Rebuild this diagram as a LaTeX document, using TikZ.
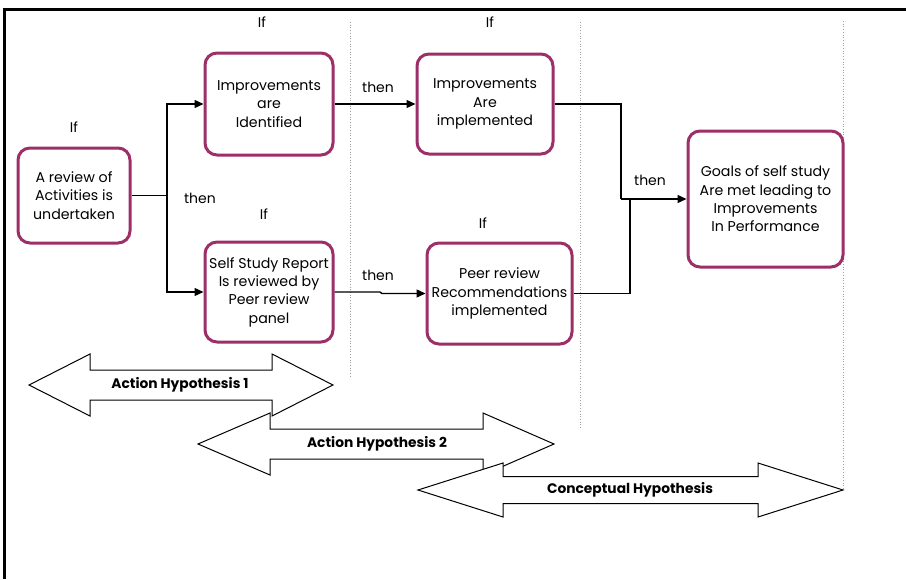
\documentclass[tikz,border=0pt]{standalone}
\usepackage{fontspec}
\setmainfont{Poppins}
\usetikzlibrary{arrows.meta}
\definecolor{plum}{RGB}{156,46,104}
\begin{document}
\begin{tikzpicture}[x=1pt,y=-1pt,
 box/.style={draw=plum, line width=3pt, rounded corners=12pt, align=center, inner sep=0pt, font=\fontsize{14.2}{18.3}\selectfont},
 lbl/.style={font=\fontsize{14}{16}\selectfont, inner sep=0pt},
 conn/.style={line width=1.4pt},
 arr/.style={conn, -{Triangle[length=9pt,width=8pt]}},
 guide/.style={black!38, dotted, line width=0.7pt},
 harrow/.style={draw=black, fill=white, line width=1pt, line join=miter},
 hlbl/.style={font=\bfseries\fontsize{13.8}{15}\selectfont, inner sep=0pt}]
\useasboundingbox (0,0) rectangle (906,579);
\fill[white] (0,0) rectangle (906,579);
% frame
\draw[line width=3pt, line join=miter] (4,579) -- (4,9) -- (906,9);
% guides
\draw[guide] (350,22) -- (350,378);
\draw[guide] (580,22) -- (580,428);
\draw[guide] (843,21) -- (843,490);
% boxes
\node[box, minimum width=112pt, minimum height=95pt] (A) at (74,195.5) {A review of\\Activities is\\undertaken};
\node[box, minimum width=128pt, minimum height=102pt] (B) at (269,104) {Improvements\\are\\Identified};
\node[box, minimum width=128pt, minimum height=100pt] (C) at (269,292) {Self Study Report\\Is reviewed by\\Peer review\\panel};
\node[box, minimum width=136pt, minimum height=100pt] (D) at (485,104) {Improvements\\Are\\implemented};
\node[box, minimum width=145pt, minimum height=101pt] (E) at (499.5,293.5) {Peer review\\Recommendations\\implemented};
\node[box, minimum width=155pt, minimum height=136pt] (F) at (765.5,199) {Goals of self study\\Are met leading to\\Improvements\\In Performance};
% labels
\node[lbl] (ifA) at (74,127) {If};
\node[lbl] (ifB) at (262,22) {If};
\node[lbl] (ifC) at (264,214) {If};
\node[lbl] (ifD) at (490,22) {If};
\node[lbl] (ifE) at (483,223) {If};
\node[lbl] (thA) at (200,198) {then};
\node[lbl] (thB) at (378,87) {then};
\node[lbl] (thC) at (378,275) {then};
\node[lbl] (thF) at (650,180) {then};
% connectors
\coordinate (sp) at (167,195.5);
\draw[conn] (A.east) -- (sp);
\draw[arr] (sp) |- (B);
\draw[arr] (sp) |- (C);
\draw[arr] (B) -- (D);
\coordinate (j1) at (380,292);
\coordinate (j2) at (382,293.5);
\draw[arr] (C.east |- j1) -- (j1) -- (j2) -- (E.west);
\coordinate (m1) at (621,199);
\coordinate (m2) at (630,199);
\draw[conn] (D.east) -| (m1);
\draw[conn] (E.east) -| (m2);
\draw[arr] (m1) -- (F.west);
% hypothesis arrows
\draw[harrow] (29,385) -- (90,354) -- (90,370) -- (272,370) -- (272,354) -- (333,385) -- (272,416) -- (272,400) -- (90,400) -- (90,416) -- cycle;
\node[hlbl] (h1) at (180,385) {Action Hypothesis 1};
\draw[harrow] (198,444) -- (270,413) -- (270,429) -- (483,429) -- (483,413) -- (554,444) -- (483,475) -- (483,459) -- (270,459) -- (270,475) -- cycle;
\node[hlbl] (h2) at (377,444) {Action Hypothesis 2};
\draw[harrow] (418,490) -- (503,463) -- (503,476.5) -- (758,476.5) -- (758,463) -- (843,490) -- (758,517) -- (758,503.5) -- (503,503.5) -- (503,517) -- cycle;
\node[hlbl] (h3) at (630,490) {Conceptual Hypothesis};
\end{tikzpicture}
\end{document}
